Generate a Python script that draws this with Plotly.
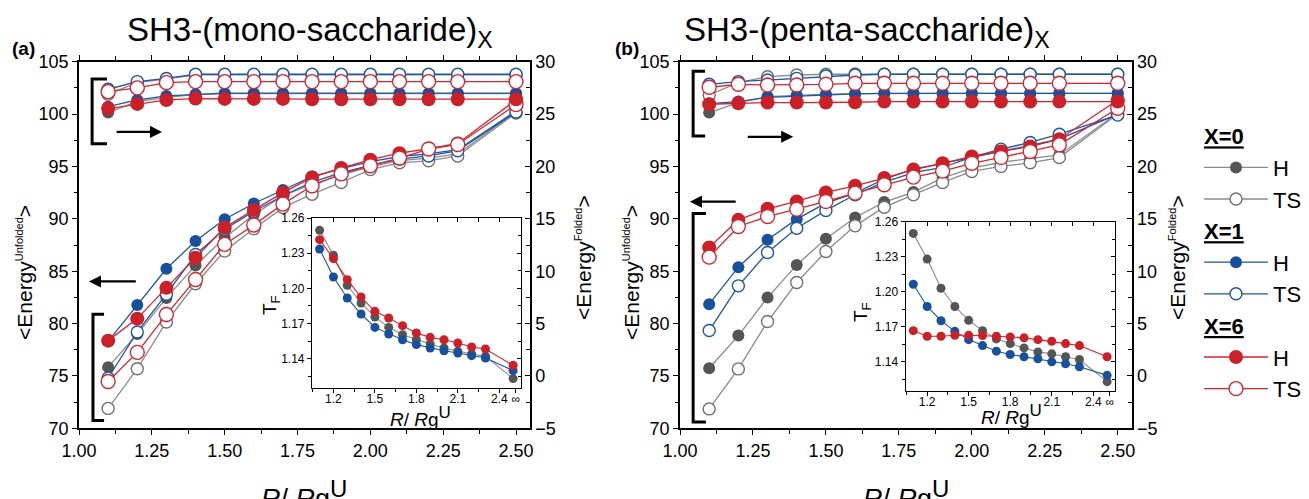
import plotly.graph_objects as go

# ---------------- data ----------------
X_MAIN = [1.1, 1.2, 1.3, 1.4, 1.5, 1.6, 1.7, 1.8, 1.9, 2.0, 2.1, 2.2, 2.3, 2.5]

# Panel (a): <Energy Unfolded> (left axis)
A_UNF_X0_H = [75.84, 79.0, 82.45, 85.55, 88.2, 90.4, 92.2, 93.3, 94.2, 94.95, 95.55, 95.8, 96.2, 100.2]
A_UNF_X0_TS = [71.9, 75.68, 80.15, 83.8, 86.92, 89.06, 91.07, 92.35, 93.47, 94.7, 95.35, 95.54, 96.0, 100.1]
A_UNF_X1_H = [78.3, 81.78, 85.23, 87.88, 89.96, 91.46, 92.76, 94.04, 94.8, 95.45, 95.95, 96.2, 96.6, 100.3]
A_UNF_X1_TS = [74.8, 79.2, 82.8, 86.6, 89.0, 90.7, 92.2, 93.5, 94.4, 95.1, 95.7, 96.0, 96.5, 100.2]
A_UNF_X6_H = [78.37, 80.47, 83.41, 86.28, 89.16, 90.85, 92.5, 93.95, 94.85, 95.64, 96.27, 96.69, 97.2, 101.35]
A_UNF_X6_TS = [74.47, 77.25, 80.86, 84.2, 87.56, 89.41, 91.4, 93.15, 94.3, 95.07, 95.8, 96.66, 97.1, 100.9]

# Panel (a): <Energy Folded> (right axis)
A_FOL_X0_H = [25.14, 26.2, 26.6, 26.85, 26.95, 26.95, 26.95, 26.95, 26.95, 26.95, 26.95, 26.95, 26.95, 26.95]
A_FOL_X0_TS = [26.9, 28.0, 28.35, 28.75, 28.75, 28.75, 28.75, 28.75, 28.75, 28.75, 28.75, 28.75, 28.75, 28.75]
A_FOL_X1_H = [25.7, 26.35, 26.73, 26.9, 27.0, 27.0, 27.0, 27.0, 27.0, 27.0, 27.0, 27.0, 27.0, 27.0]
A_FOL_X1_TS = [27.37, 28.1, 28.4, 28.8, 28.8, 28.8, 28.8, 28.8, 28.8, 28.8, 28.8, 28.8, 28.8, 28.8]
A_FOL_X6_H = [25.52, 25.97, 26.35, 26.48, 26.45, 26.45, 26.45, 26.42, 26.42, 26.42, 26.42, 26.42, 26.42, 26.42]
A_FOL_X6_TS = [27.14, 27.5, 28.0, 28.1, 28.1, 28.1, 28.1, 28.1, 28.1, 28.1, 28.1, 28.1, 28.1, 28.1]

# Panel (a) inset: T_F
A_TF_X0 = [1.2495, 1.2282, 1.2026, 1.1875, 1.1756, 1.1667, 1.1605, 1.1562, 1.1525, 1.1491, 1.1463, 1.1440, 1.1420, 1.1230]
A_TF_X1 = [1.2336, 1.2097, 1.1918, 1.1781, 1.1667, 1.1611, 1.1562, 1.1520, 1.1491, 1.1468, 1.1448, 1.1426, 1.1406, 1.1298]
A_TF_X6 = [1.2415, 1.2253, 1.2074, 1.1926, 1.1804, 1.1747, 1.1682, 1.1619, 1.1582, 1.1562, 1.1534, 1.1500, 1.1483, 1.1343]

# Panel (b): <Energy Unfolded>
B_UNF_X0_H = [75.73, 78.85, 82.48, 85.6, 88.09, 90.13, 91.6, 92.55, 93.9, 94.84, 95.4, 95.75, 96.1, 100.1]
B_UNF_X0_TS = [71.85, 75.67, 80.19, 83.92, 86.88, 89.33, 91.11, 92.29, 93.47, 94.52, 95.0, 95.35, 95.85, 100.0]
B_UNF_X1_H = [81.85, 85.38, 88.0, 89.97, 91.5, 92.45, 93.8, 94.75, 95.3, 95.9, 96.45, 97.0, 97.6, 100.0]
B_UNF_X1_TS = [79.33, 83.6, 86.78, 89.1, 90.8, 92.3, 93.5, 94.4, 94.9, 95.9, 96.65, 97.29, 98.08, 99.9]
B_UNF_X6_H = [87.26, 89.9, 90.96, 91.66, 92.52, 93.15, 93.89, 94.7, 95.3, 95.95, 96.43, 96.9, 97.6, 101.35]
B_UNF_X6_TS = [86.34, 89.27, 90.22, 90.92, 91.66, 92.45, 93.25, 93.98, 94.55, 95.3, 95.86, 96.43, 97.06, 100.56]

# Panel (b): <Energy Folded>
B_FOL_X0_H = [25.14, 26.1, 26.67, 26.8, 26.9, 26.95, 26.97, 26.97, 26.97, 26.97, 26.97, 26.97, 26.97, 26.97]
B_FOL_X0_TS = [26.83, 28.0, 28.57, 28.73, 28.8, 28.82, 28.8, 28.8, 28.8, 28.8, 28.8, 28.8, 28.8, 28.8]
B_FOL_X1_H = [26.0, 26.19, 26.6, 26.73, 26.83, 26.92, 26.98, 26.98, 26.98, 26.98, 26.98, 26.98, 26.98, 26.98]
B_FOL_X1_TS = [27.84, 28.1, 28.25, 28.41, 28.63, 28.73, 28.8, 28.8, 28.8, 28.8, 28.8, 28.8, 28.8, 28.8]
B_FOL_X6_H = [25.94, 26.03, 26.1, 26.1, 26.1, 26.13, 26.19, 26.19, 26.19, 26.19, 26.19, 26.19, 26.19, 26.19]
B_FOL_X6_TS = [27.56, 27.84, 27.78, 27.78, 27.84, 27.94, 27.94, 27.94, 27.94, 27.94, 27.94, 27.94, 27.94, 27.94]

# Panel (b) inset: T_F
B_TF_X0 = [1.2500, 1.2280, 1.2030, 1.1874, 1.1755, 1.1667, 1.1596, 1.1556, 1.1519, 1.1485, 1.1468, 1.1443, 1.1420, 1.1230]
B_TF_X1 = [1.2064, 1.1874, 1.1752, 1.1661, 1.1590, 1.1539, 1.1491, 1.1463, 1.1443, 1.1426, 1.1400, 1.1383, 1.1358, 1.1284]
B_TF_X6 = [1.1667, 1.1619, 1.1619, 1.1627, 1.1627, 1.1625, 1.1619, 1.1613, 1.1605, 1.1590, 1.1576, 1.1556, 1.1539, 1.1443]

MAIN_TICKS = [1.0, 1.25, 1.5, 1.75, 2.0, 2.25, 2.5]
INSET_TICKVALS = [1.2, 1.5, 1.8, 2.1, 2.4, 2.52]
INSET_TICKTEXT = ["1.2", "1.5", "1.8", "2.1", "2.4", "\u221e"]

# ---------------- style ----------------
COL = {
    "X0": dict(line="#8c8c8c", mark="#555555", ring="#707070"),
    "X1": dict(line="#1f56a3", mark="#17509c", ring="#1f56a3"),
    "X6": dict(line="#d3262f", mark="#cc2029", ring="#d3262f"),
}
REG = "Liberation Sans, Arial, sans-serif"

fig = go.Figure()


def series(x, y, grp, filled, xa, ya, show=False, title=None, msize=None, lw=1.3):
    c = COL[grp]
    big = grp == "X6"
    if msize is None:
        msize = 14 if big else 12
    marker = dict(
        size=msize,
        color=c["mark"] if filled else "white",
        line=dict(color=c["mark"] if filled else c["ring"], width=0 if filled else 1.4),
    )
    kw = dict(
        x=x, y=y, mode="lines+markers", xaxis=xa, yaxis=ya,
        line=dict(color=c["line"], width=lw), marker=marker,
        name="H" if filled else "TS", legendgroup=grp, showlegend=show,
        hoverinfo="skip",
    )
    if title:
        kw["legendgrouptitle"] = dict(text="<b>" + title + "</b>",
                                      font=dict(size=22, family=REG, weight="bold",
                                                lineposition="under", color="black"))
    fig.add_trace(go.Scatter(**kw))


# Panel (a) main
panel_a_unf = [(A_UNF_X0_H, "X0", True, "X=0"), (A_UNF_X0_TS, "X0", False, None),
               (A_UNF_X1_H, "X1", True, "X=1"), (A_UNF_X1_TS, "X1", False, None),
               (A_UNF_X6_H, "X6", True, "X=6"), (A_UNF_X6_TS, "X6", False, None)]
for y, g, f, t in panel_a_unf:
    series(X_MAIN, y, g, f, "x", "y", show=True, title=t)
panel_a_fol = [(A_FOL_X0_H, "X0", True), (A_FOL_X0_TS, "X0", False),
               (A_FOL_X1_H, "X1", True), (A_FOL_X1_TS, "X1", False),
               (A_FOL_X6_H, "X6", True), (A_FOL_X6_TS, "X6", False)]
for y, g, f in panel_a_fol:
    series(X_MAIN, y, g, f, "x", "y2")
for y, g in [(A_TF_X0, "X0"), (A_TF_X1, "X1"), (A_TF_X6, "X6")]:
    series(X_MAIN, y, g, True, "x2", "y3", msize=9, lw=1.1)

# Panel (b) main
panel_b_unf = [(B_UNF_X0_H, "X0", True), (B_UNF_X0_TS, "X0", False),
               (B_UNF_X1_H, "X1", True), (B_UNF_X1_TS, "X1", False),
               (B_UNF_X6_H, "X6", True), (B_UNF_X6_TS, "X6", False)]
for y, g, f in panel_b_unf:
    series(X_MAIN, y, g, f, "x3", "y4")
panel_b_fol = [(B_FOL_X0_H, "X0", True), (B_FOL_X0_TS, "X0", False),
               (B_FOL_X1_H, "X1", True), (B_FOL_X1_TS, "X1", False),
               (B_FOL_X6_H, "X6", True), (B_FOL_X6_TS, "X6", False)]
for y, g, f in panel_b_fol:
    series(X_MAIN, y, g, f, "x3", "y5")
for y, g in [(B_TF_X0, "X0"), (B_TF_X1, "X1"), (B_TF_X6, "X6")]:
    series(X_MAIN, y, g, True, "x4", "y6", msize=9, lw=1.1)

# empty traces so the mirrored inset frame axes are drawn
for xa, ya in [("x5", "y3"), ("x2", "y7"), ("x6", "y6"), ("x4", "y8")]:
    fig.add_trace(go.Scatter(x=[None], y=[None], xaxis=xa, yaxis=ya, showlegend=False,
                             hoverinfo="skip", mode="markers"))

W, H = 1309, 499


def px_x(p):
    return p / W


def px_y(p):
    return 1 - p / H


AX = dict(showgrid=False, zeroline=False, showline=True, linecolor="black", linewidth=1.5,
          ticks="outside", tickcolor="black", tickwidth=1.3, ticklen=5,
          tickfont=dict(family=REG, size=18, color="black"))


def main_x(dom, anchor):
    d = dict(AX)
    d.update(domain=dom, anchor=anchor, range=[1.0, 2.548], tickvals=MAIN_TICKS,
             ticktext=["%.2f" % v for v in MAIN_TICKS], mirror="ticks", tickangle=0,
             minor=dict(ticks="outside", dtick=0.125, tick0=1.0, ticklen=4, tickcolor="black", tickwidth=1.2))
    return d


def main_y(dom, anchor):
    d = dict(AX)
    d.update(domain=dom, anchor=anchor, range=[70, 105], dtick=5, tick0=70,
             minor=dict(ticks="outside", dtick=2.5, tick0=70, ticklen=3, tickcolor="black", tickwidth=1.2))
    return d


def right_y(over, anchor):
    d = dict(AX)
    d.update(overlaying=over, anchor=anchor, side="right", range=[-5, 30], dtick=5, tick0=-5,
             ticks="inside", minor=dict(ticks="inside", dtick=2.5, tick0=-5, ticklen=4,
                                        tickcolor="black", tickwidth=1.2))
    return d


IAX = dict(showgrid=False, zeroline=False, showline=True, linecolor="black", linewidth=1.2,
           ticks="outside", tickcolor="black", tickwidth=1.1, ticklen=4,
           tickfont=dict(family=REG, size=12, color="black"))


def inset_x(dom, anchor):
    d = dict(IAX)
    d.update(domain=dom, anchor=anchor, range=[1.045, 2.557], tickvals=INSET_TICKVALS,
             ticktext=INSET_TICKTEXT, tickangle=0, ticklabelstandoff=-5,
             minor=dict(ticks="outside", tickvals=[1.05, 1.35, 1.65, 1.95, 2.25], ticklen=3,
                        tickcolor="black", tickwidth=1.0))
    return d


def inset_y(dom, anchor):
    d = dict(IAX)
    d.update(domain=dom, anchor=anchor, range=[1.115, 1.26], tickvals=[1.14, 1.17, 1.20, 1.23, 1.26],
             ticktext=["1.14", "1.17", "1.20", "1.23", "1.26"],
             minor=dict(ticks="outside", tickvals=[1.125, 1.155, 1.185, 1.215, 1.245], ticklen=3,
                        tickcolor="black", tickwidth=1.0))
    return d


def inset_top(over, anchor):
    d = dict(IAX)
    d.update(overlaying=over, anchor=anchor, side="top", range=[1.045, 2.557], ticks="inside",
             tickvals=[1.05, 1.2, 1.35, 1.5, 1.65, 1.8, 1.95, 2.1, 2.25, 2.4, 2.55], ticklen=4,
             showticklabels=False)
    return d


def inset_right(over, anchor):
    d = dict(IAX)
    d.update(overlaying=over, anchor=anchor, side="right", range=[1.115, 1.26], ticks="inside",
             tickvals=[1.14, 1.17, 1.20, 1.23, 1.26], ticklen=4, showticklabels=False,
             minor=dict(ticks="inside", tickvals=[1.125, 1.155, 1.185, 1.215, 1.245], ticklen=3,
                        tickcolor="black", tickwidth=1.0))
    return d


main_ydom = [px_y(428.3), px_y(61.7)]
fig.update_layout(
    xaxis=main_x([px_x(79), px_x(530)], "y"),
    yaxis=main_y(main_ydom, "x"),
    yaxis2=right_y("y", "x"),
    xaxis2=inset_x([px_x(312), px_x(521)], "y3"),
    yaxis3=inset_y([px_y(388), px_y(218)], "x2"),
    xaxis3=main_x([px_x(680), px_x(1131.7)], "y4"),
    yaxis4=main_y(main_ydom, "x3"),
    yaxis5=right_y("y4", "x3"),
    xaxis4=inset_x([px_x(905.7), px_x(1115)], "y6"),
    yaxis6=inset_y([px_y(391), px_y(221.7)], "x4"),
    xaxis5=inset_top("x2", "y3"),
    yaxis7=inset_right("y3", "x2"),
    xaxis6=inset_top("x4", "y6"),
    yaxis8=inset_right("y6", "x4"),
)

# brackets
LINE = dict(color="black", width=3)
shapes = [
    dict(type="path", xref="x", yref="y", path="M 1.096,103.35 L 1.045,103.35 L 1.045,97.16 L 1.096,97.16", line=LINE),
    dict(type="path", xref="x", yref="y", path="M 1.086,80.88 L 1.048,80.88 L 1.048,70.75 L 1.086,70.75", line=LINE),
    dict(type="path", xref="x3", yref="y4", path="M 1.086,104.1 L 1.045,104.1 L 1.045,97.9 L 1.086,97.9", line=LINE),
    dict(type="path", xref="x3", yref="y4", path="M 1.089,90.5 L 1.045,90.5 L 1.045,70.6 L 1.089,70.6", line=LINE),
]
fig.update_layout(shapes=shapes)

ann = []


def arrow(xr, yr, hx, tx, yy):
    ann.append(dict(xref=xr, yref=yr, axref=xr, ayref=yr, x=hx, y=yy, ax=tx, ay=yy, text="",
                    showarrow=True, arrowhead=2, arrowsize=1.1, arrowwidth=2.2, arrowcolor="black"))


arrow("x", "y", 1.285, 1.124, 98.3)
arrow("x", "y", 1.034, 1.2, 84.02)
arrow("x3", "y4", 1.388, 1.227, 97.83)
arrow("x3", "y4", 1.034, 1.196, 91.64)


def txt(x, y, text, size, family=REG, angle=0, xanchor="center", yanchor="middle"):
    ann.append(dict(xref="paper", yref="paper", x=x, y=y, text=text, showarrow=False,
                    textangle=angle, xanchor=xanchor, yanchor=yanchor,
                    font=dict(size=size, family=family, color="black")))


txt(px_x(310), px_y(32), "SH3-(mono-saccharide)<sub>X</sub>", 33)
txt(px_x(867), px_y(32), "SH3-(penta-saccharide)<sub>X</sub>", 33)
txt(px_x(23), px_y(49), "<b>(a)</b>", 19)
txt(px_x(627), px_y(49), "<b>(b)</b>", 19)

UNF = "&lt;Energy<sup><span style='font-size:11px'>Unfolded</span></sup>&gt;"
FOL = "&lt;Energy<sup><span style='font-size:11px'>Folded</span></sup>&gt;"
txt(px_x(24), px_y(273), UNF, 21, REG, -90)
txt(px_x(631), px_y(273), UNF, 21, REG, -90)
txt(px_x(583), px_y(258), FOL, 21, REG, -90)
txt(px_x(1177), px_y(258), FOL, 21, REG, -90)

XT = "<i>R</i>/ <i>R</i>g<sup><span style='font-size:%dpx'>U</span></sup>"
txt(px_x(304), px_y(494), XT % 24, 27, REG)
txt(px_x(906), px_y(494), XT % 24, 27, REG)
txt(px_x(420), px_y(416), XT % 17, 19, REG)
txt(px_x(1011), px_y(414), XT % 17, 19, REG)
txt(px_x(271), px_y(305), "T<sub>F</sub>", 19, REG, -90)
txt(px_x(862), px_y(312), "T<sub>F</sub>", 19, REG, -90)

fig.update_layout(
    annotations=ann,
    width=W, height=H, autosize=False,
    margin=dict(l=0, r=0, t=0, b=0, autoexpand=False),
    paper_bgcolor="white", plot_bgcolor="rgba(0,0,0,0)",
    showlegend=True,
    legend=dict(x=px_x(1199), y=px_y(115), xanchor="left", yanchor="top",
                font=dict(size=22, family=REG, color="black"), tracegroupgap=0,
                bgcolor="rgba(0,0,0,0)", traceorder="grouped", itemwidth=64),
)

fig.write_html("out.html", config={"displayModeBar": False},
               post_script="document.body.style.margin='0';")
